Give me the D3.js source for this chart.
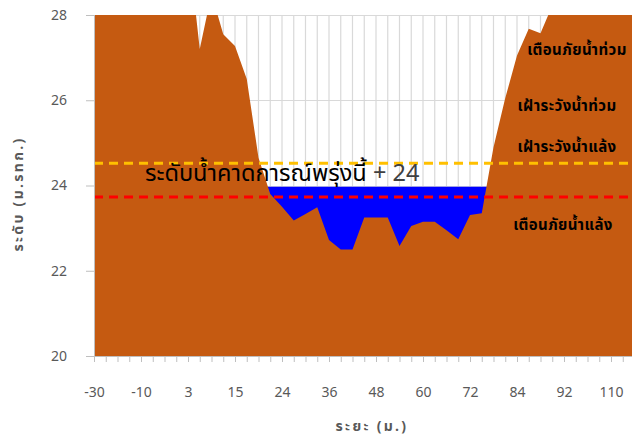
<!DOCTYPE html>
<html>
<head>
<meta charset="utf-8">
<script src="https://cdn.jsdelivr.net/npm/d3@7"></script>
<style>
  html, body { margin: 0; padding: 0; background: #fff; }
  svg { display: block; }
  text { font-family: Tahoma, "Noto Sans Thai", "DejaVu Sans", sans-serif; }
</style>
</head>
<body>
<svg id="chart" width="632" height="437"></svg>
<script>
// ---- data ----
const tickLabels = ["-30", "-10", "3", "15", "24", "36", "48", "60", "72", "84", "92", "110"];
const labelEvery = 4;
// ground elevation (m MSL) per survey point
const ground = [30, 30, 30, 30, 30, 30, 30, 30, 29.7, 27.2,
                28.5, 27.55, 27.27, 26.5, 24.65, 23.8, 23.5, 23.18, 23.33, 23.49,
                22.72, 22.5, 22.5, 23.25, 23.25, 23.25, 22.58, 23.05, 23.15, 23.15,
                22.95, 22.74, 23.31, 23.35, 24.9, 26.05, 27.05, 27.68, 27.57, 28.22,
                30, 30, 30, 30, 30, 30, 30];
// forecast water level (tomorrow)
const waterLevel = 23.97;
const waterStart = 14, waterEnd = 34;
const thresholds = [
  { name: "เฝ้าระวังน้ำแล้ง", value: 24.52, color: "#FFC000" },
  { name: "เตือนภัยน้ำแล้ง", value: 23.73, color: "#FF0000" }
];
const levelLabels = ["เตือนภัยน้ำท่วม", "เฝ้าระวังน้ำท่วม", "เฝ้าระวังน้ำแล้ง", "เตือนภัยน้ำแล้ง"];
const yTicks = [20, 22, 24, 26, 28];
const forecastLabel = "ระดับน้ำคาดการณ์พรุ่งนี้";
const forecastValue = "24";

// ---- layout ----
const svg = d3.select("#chart");
const pLeft = 94, pTop = 15, pBottom = 356;
const n = ground.length;
const x = d3.scaleLinear().domain([0, n - 1]).range([pLeft, pLeft + 11.75 * (n - 1)]);
const y = d3.scaleLinear().domain([20, 28]).range([pBottom, pTop]);
const pRight = x(n - 1);

svg.append("defs").append("clipPath").attr("id", "plot")
  .append("rect").attr("x", pLeft).attr("y", pTop).attr("width", pRight - pLeft).attr("height", pBottom - pTop);

// gridlines
const grid = svg.append("g").attr("stroke", "#D9D9D9").attr("stroke-width", 1.2);
grid.selectAll("line.h").data(yTicks.filter(d => d > 20)).join("line")
  .attr("x1", pLeft).attr("x2", pRight)
  .attr("y1", d => Math.round(y(d)) + 0.5).attr("y2", d => Math.round(y(d)) + 0.5);
grid.selectAll("line.v").data(d3.range(1, n)).join("line")
  .attr("x1", d => x(d)).attr("x2", d => x(d))
  .attr("y1", pTop).attr("y2", pBottom);

const plot = svg.append("g").attr("clip-path", "url(#plot)");

// water
const waterData = d3.range(waterStart, waterEnd + 1);
plot.append("path")
  .datum(waterData)
  .attr("fill", "#0000FF")
  .attr("d", d3.area().x(d => x(d)).y0(y(20)).y1(y(waterLevel)));

// ground
plot.append("path")
  .datum(ground)
  .attr("fill", "#C55A11")
  .attr("d", d3.area().x((d, i) => x(i)).y0(y(20)).y1(d => y(d)));

// threshold dashed lines
plot.selectAll("line.th").data(thresholds).join("line")
  .attr("x1", pLeft).attr("x2", pRight)
  .attr("y1", d => y(d.value)).attr("y2", d => y(d.value))
  .attr("stroke", d => d.color).attr("stroke-width", 3)
  .attr("stroke-dasharray", "9,6");

// axes
const axisColor = "#BFBFBF";
const xAxis = d3.axisBottom(x)
  .tickValues(d3.range(0, n))
  .tickSize(6)
  .tickFormat(i => (i % labelEvery === 0 && tickLabels[i / labelEvery] !== undefined) ? tickLabels[i / labelEvery] : "");
const gx = svg.append("g").attr("transform", `translate(0,${pBottom})`).call(xAxis);
gx.select(".domain").attr("stroke", axisColor).attr("d", `M${pLeft},0.5H${pRight}`);
gx.selectAll(".tick line").attr("stroke", axisColor);
gx.selectAll(".tick text").attr("fill", "#595959").attr("font-size", 14).attr("dy", "2.3em");

const yAxis = d3.axisLeft(y).tickValues(yTicks).tickSize(8).tickFormat(d3.format("d"));
const gy = svg.append("g").attr("transform", `translate(${pLeft},0)`).call(yAxis);
gy.select(".domain").attr("stroke", axisColor).attr("d", `M0.5,${pTop}V${pBottom}`);
gy.selectAll(".tick line").attr("stroke", axisColor);
gy.selectAll(".tick text").attr("fill", "#595959").attr("font-size", 14).attr("x", -27);

// axis titles
svg.append("text").attr("x", 372).attr("y", 431).attr("text-anchor", "middle")
  .attr("fill", "#595959").attr("font-size", 14).attr("font-weight", "bold")
  .attr("letter-spacing", 2.3)
  .text("ระยะ (ม.)");
svg.append("text").attr("transform", "translate(23,194) rotate(-90)").attr("text-anchor", "middle")
  .attr("fill", "#595959").attr("font-size", 14).attr("font-weight", "bold")
  .attr("letter-spacing", 2.3)
  .text("ระดับ (ม.รทก.)");

// level labels
const lblPos = [[577, 55], [567, 111], [567, 152], [563, 230]];
svg.selectAll("text.lvl").data(levelLabels).join("text")
  .attr("x", (d, i) => lblPos[i][0]).attr("y", (d, i) => lblPos[i][1])
  .attr("text-anchor", "middle").attr("font-size", 15).attr("font-weight", "bold")
  .attr("letter-spacing", 0.4).attr("fill", "#000")
  .text(d => d);

// forecast label
const fl = svg.append("text").attr("x", 145).attr("y", 181).attr("font-size", 23.5).attr("fill", "#000");
fl.append("tspan").text(forecastLabel);
fl.append("tspan").attr("fill", "#404040").text(" + " + forecastValue);
</script>
</body>
</html>
